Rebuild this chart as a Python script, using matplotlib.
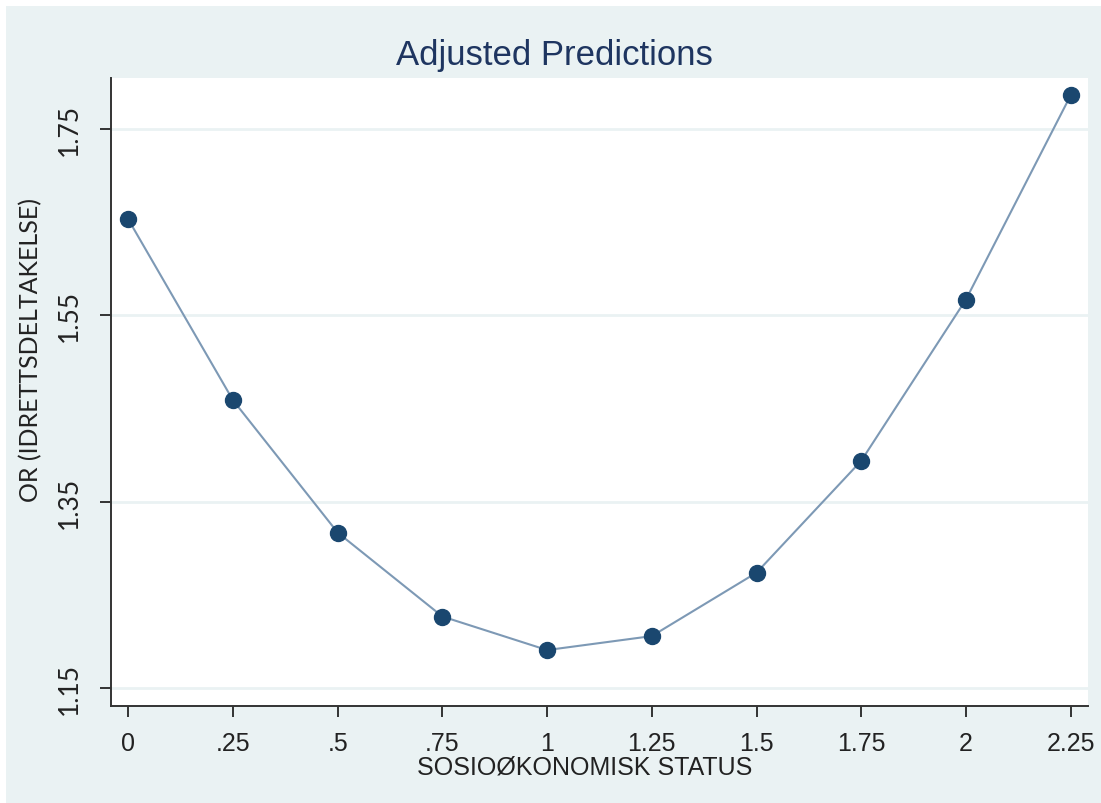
import matplotlib
matplotlib.use("Agg")
import matplotlib.pyplot as plt
from matplotlib.patches import Rectangle

# Data
ses = [0, 0.25, 0.5, 0.75, 1, 1.25, 1.5, 1.75, 2, 2.25]
odds_ratio = [1.653, 1.459, 1.317, 1.227, 1.191, 1.206, 1.274, 1.394, 1.567, 1.786]

x_ticks = [0, 0.25, 0.5, 0.75, 1, 1.25, 1.5, 1.75, 2, 2.25]
x_tick_labels = ["0", ".25", ".5", ".75", "1", "1.25", "1.5", "1.75", "2", "2.25"]
y_ticks = [1.15, 1.35, 1.55, 1.75]
y_tick_labels = ["1.15", "1.35", "1.55", "1.75"]

bg_color = "#EAF2F3"
navy = "#1A476F"
line_color = "#7D99B5"

fig = plt.figure(figsize=(11.01, 8.04), dpi=100, facecolor="white")
# light graph region (thin white strip on top and left)
fig.patches.append(Rectangle((6 / 1101, 0), 1 - 6 / 1101, 1 - 7 / 804,
                             transform=fig.transFigure, facecolor=bg_color,
                             edgecolor="none", zorder=-10))

ax = fig.add_axes([111 / 1101, 1 - 707 / 804, (1088 - 111) / 1101, (707 - 79) / 804])
ax.set_facecolor("white")

ax.plot(ses, odds_ratio, color=line_color, linewidth=1.5, zorder=3)
ax.plot(ses, odds_ratio, linestyle="none", marker="o", markersize=11.5,
        color=navy, zorder=4)

ax.set_xlim(-0.0413, 2.2915)
ax.set_ylim(1.131, 1.8047)

ax.set_xticks(x_ticks)
ax.set_xticklabels(x_tick_labels, fontfamily="Liberation Sans", fontsize=18, color="#222222")
ax.set_yticks(y_ticks)
ax.set_yticklabels(y_tick_labels, fontfamily="Lato", fontsize=19, color="#222222",
                   rotation=90, va="center")

ax.yaxis.grid(True, color=bg_color, linewidth=2)
ax.set_axisbelow(True)

for side in ["top", "right"]:
    ax.spines[side].set_visible(False)
for side in ["left", "bottom"]:
    ax.spines[side].set_color("#333333")
    ax.spines[side].set_linewidth(1.4)

ax.tick_params(axis="x", direction="out", length=8, width=1.4, color="#333333", pad=10)
ax.tick_params(axis="y", direction="out", length=8, width=1.4, color="#333333", pad=13)

fig.text(554 / 1101, 1 - 55 / 804, "Adjusted Predictions", ha="center", va="center",
         fontfamily="Liberation Sans", fontsize=25, color="#1E3560")
fig.text(585 / 1101, 1 - 768 / 804, "SOSIOØKONOMISK STATUS", ha="center", va="center",
         fontfamily="Liberation Sans", fontsize=18, color="#222222")
fig.text(31 / 1101, 1 - 350 / 804, "OR (IDRETTSDELTAKELSE)", ha="center", va="center",
         rotation=90, fontfamily="Lato", fontsize=18, color="#222222")

fig.savefig("out.png", dpi=100, facecolor="white")
